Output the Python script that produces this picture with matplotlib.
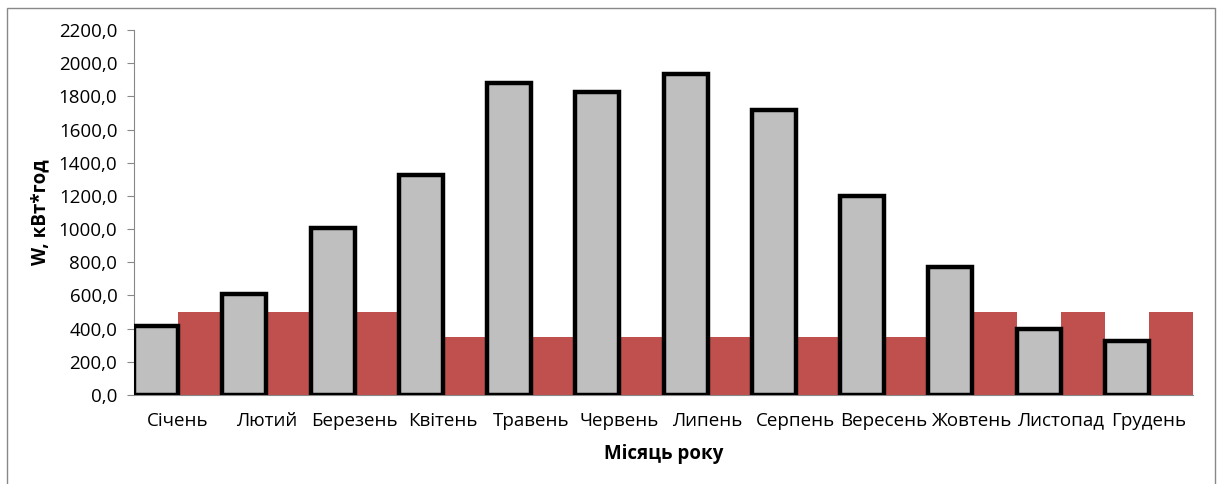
import matplotlib.pyplot as plt
import matplotlib.patches as mpatches
import numpy as np

# Дані
months = ['Січень', 'Лютий', 'Березень', 'Квітень', 'Травень', 'Червень',
          'Липень', 'Серпень', 'Вересень', 'Жовтень', 'Листопад', 'Грудень']
generated = [414, 611, 1009, 1326, 1883, 1826, 1935, 1720, 1200, 774, 396, 325]
consumed = [500, 500, 500, 350, 350, 350, 350, 350, 350, 500, 500, 500]
yticks = np.arange(0, 2201, 200)

plt.rcParams['font.family'] = ['Open Sans', 'DejaVu Sans']

fig = plt.figure(figsize=(12.17, 4.84), dpi=100)
ax = fig.add_axes([134 / 1217, 1 - 395 / 484, (1193 - 134) / 1217, (395 - 30) / 484])

x = np.arange(len(months))
w = 0.5
ax.bar(x - w / 2, generated, width=w, color='#bfbfbf', edgecolor='black', linewidth=3.2, zorder=3)
ax.bar(x + w / 2, consumed, width=w, color='#c0504d', edgecolor='none', zorder=2)

ax.set_xlim(-0.5, len(months) - 0.5)
ax.set_ylim(0, 2200)
ax.set_yticks(yticks)
ax.set_yticklabels([f'{v:.1f}'.replace('.', ',') for v in yticks], fontsize=13.5)
ax.set_xticks(x)
ax.set_xticklabels(months, fontsize=13.5)
ax.tick_params(axis='x', length=0, pad=12)
ax.tick_params(axis='y', length=5, color='#888888', pad=7)

for s in ['top', 'right']:
    ax.spines[s].set_visible(False)
ax.spines['left'].set_color('#888888')
ax.spines['bottom'].set_color('#888888')

ax.set_xlabel('Місяць року', fontsize=13.5, fontweight='bold', labelpad=10)
ax.set_ylabel('W, кВт*год', fontsize=13.5, fontweight='bold', labelpad=6)

# рамка навколо діаграми
fig.patches.append(mpatches.Rectangle((7 / 1217, -10 / 484), 1208 / 1217, 486 / 484,
                                      transform=fig.transFigure, fill=False,
                                      edgecolor='#888888', linewidth=1))

fig.savefig('out.png', dpi=100)
